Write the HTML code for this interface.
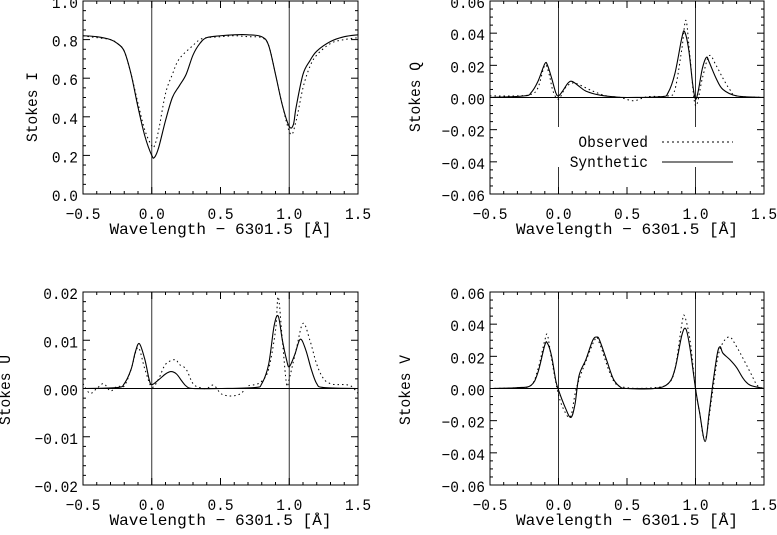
<!DOCTYPE html>
<html><head><meta charset="utf-8"><style>
html,body{margin:0;padding:0;background:#fff;width:777px;height:535px;overflow:hidden}
svg text{font-family:"Liberation Mono","DejaVu Sans Mono",monospace;fill:#000}
</style></head><body>
<svg id="fig" width="777" height="535" xmlns="http://www.w3.org/2000/svg"></svg>
<script>
const xTicks=[-0.5,0.0,0.5,1.0,1.5];
const xTickLabels=["\u22120.5","0.0","0.5","1.0","1.5"];
// Stokes I
const iSynX=[-0.5,-0.4,-0.3,-0.25,-0.2,-0.15,-0.1,-0.05,0,0.02,0.05,0.1,0.15,0.2,0.25,0.3,0.35,0.4,0.5,0.6,0.7,0.8,0.85,0.9,0.95,1.0,1.03,1.05,1.1,1.15,1.2,1.3,1.4,1.5];
const iSynY=[0.82,0.815,0.80,0.78,0.74,0.62,0.45,0.30,0.20,0.19,0.24,0.38,0.50,0.56,0.62,0.72,0.78,0.81,0.82,0.825,0.825,0.815,0.77,0.62,0.46,0.35,0.36,0.45,0.62,0.69,0.74,0.79,0.815,0.825];
const iObsX=[-0.5,-0.4,-0.3,-0.25,-0.2,-0.15,-0.1,-0.05,0,0.02,0.05,0.1,0.15,0.2,0.3,0.35,0.4,0.5,0.6,0.7,0.8,0.85,0.9,0.95,1.01,1.05,1.1,1.15,1.2,1.3,1.4,1.5];
const iObsY=[0.82,0.81,0.80,0.78,0.74,0.62,0.47,0.33,0.25,0.25,0.33,0.52,0.62,0.70,0.77,0.80,0.81,0.815,0.82,0.815,0.81,0.77,0.62,0.46,0.31,0.38,0.55,0.66,0.72,0.78,0.80,0.81];
// Stokes Q
const qSynX=[-0.5,-0.25,-0.2,-0.15,-0.1,-0.08,-0.05,-0.02,0,0.03,0.07,0.1,0.15,0.2,0.3,0.4,0.5,0.75,0.8,0.85,0.9,0.92,0.95,0.98,1.0,1.02,1.05,1.08,1.1,1.15,1.2,1.3,1.5];
const qSynY=[0,0.001,0.003,0.01,0.021,0.02,0.012,0.003,0.001,0.004,0.009,0.010,0.007,0.004,0.0015,0.0005,0,0.0005,0.003,0.015,0.037,0.041,0.03,0.008,-0.001,0.004,0.018,0.025,0.022,0.012,0.005,0.001,0];
const qObsX=[-0.5,-0.3,-0.2,-0.15,-0.1,-0.07,-0.04,0,0.05,0.1,0.15,0.25,0.35,0.45,0.55,0.65,0.8,0.85,0.9,0.93,0.96,1.0,1.05,1.1,1.15,1.2,1.25,1.3,1.5];
const qObsY=[0.001,0.001,0.002,0.006,0.02,0.015,0.004,-0.001,0.006,0.009,0.008,0.004,0.001,0.0,-0.002,0.0005,0.001,0.005,0.030,0.048,0.025,-0.005,0.012,0.026,0.02,0.012,0.005,0.001,0];
// Stokes U
const uSynX=[-0.5,-0.25,-0.2,-0.15,-0.12,-0.09,-0.05,-0.02,0,0.05,0.1,0.14,0.18,0.22,0.25,0.3,0.5,0.75,0.8,0.85,0.89,0.92,0.95,0.98,1.0,1.04,1.08,1.12,1.16,1.2,1.25,1.5];
const uSynY=[0,0.0002,0.001,0.004,0.0075,0.0093,0.006,0.002,0.0008,0.0018,0.003,0.0035,0.003,0.0015,0.0005,0,0,0.0002,0.001,0.005,0.013,0.015,0.010,0.006,0.0045,0.007,0.0102,0.008,0.004,0.001,0.0002,0];
const uObsX=[-0.5,-0.45,-0.4,-0.35,-0.3,-0.25,-0.2,-0.15,-0.1,-0.05,0,0.05,0.1,0.17,0.2,0.25,0.3,0.35,0.4,0.45,0.5,0.55,0.6,0.65,0.7,0.75,0.8,0.85,0.9,0.92,0.95,0.98,1.0,1.05,1.1,1.15,1.2,1.25,1.3,1.35,1.4,1.45,1.5];
const uObsY=[0.001,-0.001,0.0,0.001,-0.0005,0.0005,0.0005,0.004,0.0085,0.004,0.0003,0.002,0.005,0.006,0.005,0.004,0.001,0.0002,0.0,0.0007,-0.001,-0.0015,-0.0015,-0.001,0.0005,0.0008,0.0015,0.004,0.012,0.019,0.010,0.001,0.002,0.008,0.0135,0.010,0.005,0.002,0.001,0.0008,0.0008,0.0005,-0.001];
// Stokes V
const vSynX=[-0.5,-0.3,-0.2,-0.15,-0.1,-0.08,-0.05,-0.02,0,0.05,0.09,0.12,0.15,0.2,0.25,0.28,0.3,0.35,0.4,0.45,0.5,0.7,0.8,0.85,0.9,0.93,0.96,1.0,1.03,1.07,1.1,1.13,1.16,1.18,1.2,1.25,1.3,1.35,1.4,1.5];
const vSynY=[0,0.0005,0.002,0.01,0.027,0.028,0.02,0.005,-0.001,-0.012,-0.018,-0.01,0.008,0.018,0.03,0.032,0.03,0.018,0.006,0.001,0,0,0.003,0.012,0.033,0.037,0.025,0.0,-0.015,-0.033,-0.015,0.005,0.022,0.026,0.022,0.018,0.013,0.006,0.002,0];
const vObsX=[-0.5,-0.3,-0.2,-0.15,-0.1,-0.08,-0.05,0,0.05,0.09,0.13,0.2,0.27,0.3,0.4,0.5,0.7,0.8,0.85,0.9,0.92,0.96,1.0,1.03,1.07,1.12,1.17,1.24,1.3,1.4,1.45,1.5];
const vObsY=[0,0.0005,0.002,0.012,0.03,0.033,0.018,-0.004,-0.015,-0.017,0.0,0.017,0.031,0.028,0.005,0.0005,0.0005,0.003,0.012,0.04,0.045,0.03,0.0,-0.015,-0.032,-0.005,0.022,0.032,0.026,0.01,0.002,0];

const NS="http://www.w3.org/2000/svg";
const svg=document.getElementById('fig');
const CW=8.7;
function mk(tag,attrs,parent){const e=document.createElementNS(NS,tag);for(const k in attrs)e.setAttribute(k,attrs[k]);(parent||svg).appendChild(e);return e;}

function spline(pts){
  let d="M"+pts[0][0].toFixed(2)+","+pts[0][1].toFixed(2);
  for(let i=0;i<pts.length-1;i++){
    const p0=pts[Math.max(0,i-1)],p1=pts[i],p2=pts[i+1],p3=pts[Math.min(pts.length-1,i+2)];
    const c1x=p1[0]+(p2[0]-p0[0])/6,c1y=p1[1]+(p2[1]-p0[1])/6;
    const c2x=p2[0]-(p3[0]-p1[0])/6,c2y=p2[1]-(p3[1]-p1[1])/6;
    d+=" C"+c1x.toFixed(2)+","+c1y.toFixed(2)+" "+c2x.toFixed(2)+","+c2y.toFixed(2)+" "+p2[0].toFixed(2)+","+p2[1].toFixed(2);
  }
  return d;
}

function panel(cfg){
  const g=mk('g',{});
  
  
  const X=v=>cfg.x0+(v+0.5)/2*(cfg.x1-cfg.x0);
  const Y=v=>cfg.y1-(v-cfg.ymin)/(cfg.ymax-cfg.ymin)*(cfg.y1-cfg.y0);
  const cid='clip-'+cfg.name;
  const cp=mk('clipPath',{id:cid},g);
  mk('rect',{x:cfg.x0,y:cfg.y0,width:cfg.x1-cfg.x0,height:cfg.y1-cfg.y0},cp);
  [0,1].forEach(v=>{
    if(cfg.gap){
      const a=mk('line',{x1:X(v),x2:X(v),y1:cfg.y0,y2:cfg.gap[0],stroke:'#333','stroke-width':1},g);
      
      const b=mk('line',{x1:X(v),x2:X(v),y1:cfg.gap[1],y2:cfg.y1,stroke:'#333','stroke-width':1},g);
      
    } else {
      const a=mk('line',{x1:X(v),x2:X(v),y1:cfg.y0,y2:cfg.y1,stroke:'#333','stroke-width':1},g);
      
    }
  });
  if(cfg.zero){
    const z=mk('line',{x1:cfg.x0,x2:cfg.x1,y1:Y(0),y2:Y(0),stroke:'#000','stroke-width':1},g);
    
  }
  const obs=mk('path',{d:spline(cfg.ox.map((x,i)=>[X(x),Y(cfg.oy[i])])),fill:'none',stroke:'#000','stroke-width':1,'stroke-dasharray':'1.5,3','clip-path':'url(#'+cid+')'},g);
  
  const syn=mk('path',{d:spline(cfg.sx.map((x,i)=>[X(x),Y(cfg.sy[i])])),fill:'none',stroke:'#000','stroke-width':1.1,'clip-path':'url(#'+cid+')'},g);
  
  const fr=mk('rect',{x:cfg.x0,y:cfg.y0,width:cfg.x1-cfg.x0,height:cfg.y1-cfg.y0,fill:'none',stroke:'#000','stroke-width':1},g);
  
  for(let k=0;k<=20;k++){
    const v=-0.5+k*0.1, L=(k%5===0)?7:3, px=X(v);
    mk('line',{x1:px,x2:px,y1:cfg.y1,y2:cfg.y1-L,stroke:'#000','stroke-width':1},g);
    mk('line',{x1:px,x2:px,y1:cfg.y0,y2:cfg.y0+L,stroke:'#000','stroke-width':1},g);
  }
  xTicks.forEach((v,i)=>{
    const s=xTickLabels[i];
    const t=mk('text',{x:X(v),y:cfg.y1+25,'text-anchor':'middle','font-size':16,textLength:(s.length*CW).toFixed(1),lengthAdjust:'spacingAndGlyphs'},g);
    t.textContent=s;
    
  });
  const xt=mk('text',{x:(cfg.x0+cfg.x1)/2,y:cfg.y1+40,'text-anchor':'middle','font-size':16,textLength:222,lengthAdjust:'spacingAndGlyphs'},g);
  xt.textContent="Wavelength \u2212 6301.5 [\u00c5]";
  
  const nMin=cfg.yticks.length-1, step=cfg.yticks[1]-cfg.yticks[0];
  for(let k=0;k<nMin*cfg.minor+1;k++){
    const v=cfg.yticks[0]+k*step/cfg.minor, L=(k%cfg.minor===0)?7:3, py=Y(v);
    mk('line',{x1:cfg.x0,x2:cfg.x0+L,y1:py,y2:py,stroke:'#000','stroke-width':1},g);
    mk('line',{x1:cfg.x1,x2:cfg.x1-L,y1:py,y2:py,stroke:'#000','stroke-width':1},g);
  }
  cfg.yticks.forEach((v,i)=>{
    const s=cfg.ylabels[i];
    const t=mk('text',{x:cfg.x0-5,y:Y(v)+7,'text-anchor':'end','font-size':16,textLength:(s.length*CW).toFixed(1),lengthAdjust:'spacingAndGlyphs'},g);
    t.textContent=s;
    
  });
  const yt=mk('text',{x:cfg.ytx,y:cfg.yty,'text-anchor':'middle','font-size':16,textLength:70,lengthAdjust:'spacingAndGlyphs',transform:'rotate(-90 '+cfg.ytx+' '+cfg.yty+')'},g);
  yt.textContent=cfg.ytitle;
  
  return g;
}

panel({name:'stokes-i-panel',x0:83,x1:358,y0:1,y1:194,ymin:0,ymax:1.0,yticks:[0,0.2,0.4,0.6,0.8,1.0],ylabels:["0.0","0.2","0.4","0.6","0.8","1.0"],minor:4,ytitle:"Stokes I",ytx:37,yty:107,sx:iSynX,sy:iSynY,ox:iObsX,oy:iObsY});
panel({name:'stokes-q-panel',x0:490,x1:764,y0:1,y1:194,ymin:-0.06,ymax:0.06,yticks:[-0.06,-0.04,-0.02,0,0.02,0.04,0.06],ylabels:["\u22120.06","\u22120.04","\u22120.02","0.00","0.02","0.04","0.06"],minor:4,ytitle:"Stokes Q",ytx:420,yty:97,zero:true,gap:[127,167],sx:qSynX,sy:qSynY,ox:qObsX,oy:qObsY});
panel({name:'stokes-u-panel',x0:83,x1:358,y0:292,y1:485,ymin:-0.02,ymax:0.02,yticks:[-0.02,-0.01,0,0.01,0.02],ylabels:["\u22120.02","\u22120.01","0.00","0.01","0.02"],minor:5,ytitle:"Stokes U",ytx:10,yty:390,zero:true,sx:uSynX,sy:uSynY,ox:uObsX,oy:uObsY});
panel({name:'stokes-v-panel',x0:490,x1:764,y0:292,y1:485,ymin:-0.06,ymax:0.06,yticks:[-0.06,-0.04,-0.02,0,0.02,0.04,0.06],ylabels:["\u22120.06","\u22120.04","\u22120.02","0.00","0.02","0.04","0.06"],minor:4,ytitle:"Stokes V",ytx:410,yty:390,zero:true,sx:vSynX,sy:vSynY,ox:vObsX,oy:vObsY});

const lg=mk('g',{});


const t1=mk('text',{x:648,y:147,'text-anchor':'end','font-size':16,textLength:(8*CW).toFixed(1),lengthAdjust:'spacingAndGlyphs'},lg);t1.textContent="Observed";

const l1=mk('line',{x1:662,x2:733,y1:142,y2:142,stroke:'#000','stroke-width':1,'stroke-dasharray':'2,3'},lg);

const t2=mk('text',{x:648,y:167,'text-anchor':'end','font-size':16,textLength:(9*CW).toFixed(1),lengthAdjust:'spacingAndGlyphs'},lg);t2.textContent="Synthetic";

const l2=mk('line',{x1:662,x2:733,y1:162,y2:162,stroke:'#000','stroke-width':1.1},lg);

</script>
</body></html>
